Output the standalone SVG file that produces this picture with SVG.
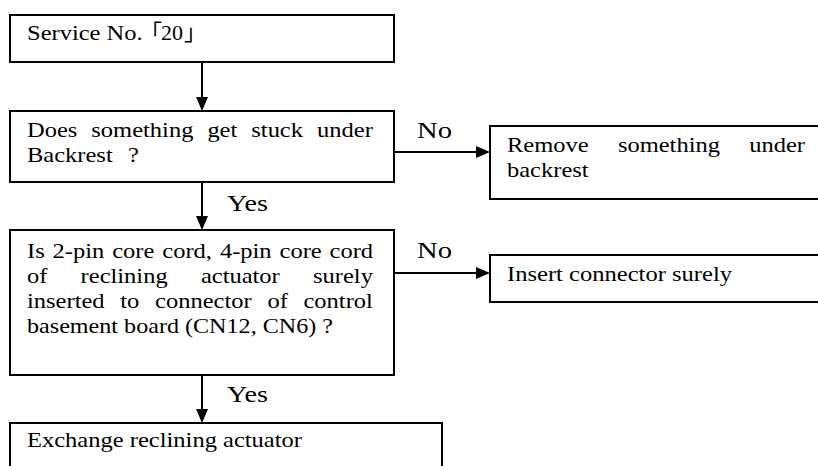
<svg xmlns="http://www.w3.org/2000/svg" width="818" height="466" viewBox="0 0 818 466">
<style>
.box{fill:#fff;stroke:#000;stroke-width:2}
.t{font-family:'Liberation Serif','Times New Roman',serif;font-size:22px;fill:#000}
.lbl{font-family:'Liberation Serif','Times New Roman',serif;font-size:24px;fill:#000}
.cjk{font-family:'Noto Sans CJK JP',serif}
.c{stroke:#000;stroke-width:2;fill:none;marker-end:url(#ah)}
</style>
<defs>
<marker id="ah" markerUnits="userSpaceOnUse" markerWidth="14" markerHeight="12" refX="4" refY="6" orient="auto">
<path d="M0,0 L14,6 L0,12 Z" fill="#000"/>
</marker>
</defs>
<rect width="818" height="466" fill="#fff"/>
<g id="connectors">
<line class="c" x1="202" y1="62" x2="202" y2="101"/>
<line class="c" x1="202" y1="182" x2="202" y2="220"/>
<line class="c" x1="202" y1="375" x2="202" y2="413"/>
<line class="c" x1="394" y1="152" x2="480" y2="152"/>
<line class="c" x1="394" y1="273" x2="480" y2="273"/>
<text class="lbl" x="227" y="211" textLength="41" lengthAdjust="spacingAndGlyphs">Yes</text>
<text class="lbl" x="227" y="402" textLength="41" lengthAdjust="spacingAndGlyphs">Yes</text>
<text class="lbl" x="417" y="138" textLength="35" lengthAdjust="spacingAndGlyphs">No</text>
<text class="lbl" x="417" y="258" textLength="35" lengthAdjust="spacingAndGlyphs">No</text>
</g>
<g id="start">
<rect class="box" x="10" y="15" width="384" height="47"/>
<text class="t" y="40"><tspan x="27" textLength="115.7" lengthAdjust="spacingAndGlyphs">Service No.</tspan><tspan class="cjk" x="140">「</tspan><tspan x="161">20</tspan><tspan class="cjk" x="184">」</tspan></text>
</g>
<g id="q1">
<rect class="box" x="10" y="111" width="384" height="71"/>
<text class="t" y="137"><tspan x="27" textLength="50.3" lengthAdjust="spacingAndGlyphs">Does</tspan> <tspan x="91.3" textLength="102.1" lengthAdjust="spacingAndGlyphs">something</tspan> <tspan x="207.4" textLength="29.9" lengthAdjust="spacingAndGlyphs">get</tspan> <tspan x="251.3" textLength="51.7" lengthAdjust="spacingAndGlyphs">stuck</tspan> <tspan x="317" textLength="55.8" lengthAdjust="spacingAndGlyphs">under</tspan></text>
<text class="t" y="162"><tspan x="27" textLength="85.7" lengthAdjust="spacingAndGlyphs">Backrest</tspan> <tspan x="128" textLength="10.9" lengthAdjust="spacingAndGlyphs">?</tspan></text>
</g>
<g id="remove">
<rect class="box" x="490" y="126" width="340" height="73"/>
<text class="t" y="152"><tspan x="507" textLength="81.7" lengthAdjust="spacingAndGlyphs">Remove</tspan> <tspan x="617.9" textLength="102.1" lengthAdjust="spacingAndGlyphs">something</tspan> <tspan x="749.2" textLength="55.8" lengthAdjust="spacingAndGlyphs">under</tspan></text>
<text class="t" x="507" y="177" textLength="81.6" lengthAdjust="spacingAndGlyphs">backrest</text>
</g>
<g id="q2">
<rect class="box" x="10" y="230" width="384" height="145"/>
<text class="t" y="258"><tspan x="27" textLength="17.7" lengthAdjust="spacingAndGlyphs">Is</tspan> <tspan x="52.6" textLength="51.7" lengthAdjust="spacingAndGlyphs">2-pin</tspan> <tspan x="112.2" textLength="42.2" lengthAdjust="spacingAndGlyphs">core</tspan> <tspan x="162.3" textLength="49.7" lengthAdjust="spacingAndGlyphs">cord,</tspan> <tspan x="219.9" textLength="51.7" lengthAdjust="spacingAndGlyphs">4-pin</tspan> <tspan x="279.5" textLength="42.2" lengthAdjust="spacingAndGlyphs">core</tspan> <tspan x="329.6" textLength="43.5" lengthAdjust="spacingAndGlyphs">cord</tspan></text>
<text class="t" y="283"><tspan x="27" textLength="20.4" lengthAdjust="spacingAndGlyphs">of</tspan> <tspan x="80.6" textLength="87.1" lengthAdjust="spacingAndGlyphs">reclining</tspan> <tspan x="200.9" textLength="78.9" lengthAdjust="spacingAndGlyphs">actuator</tspan> <tspan x="313" textLength="59.9" lengthAdjust="spacingAndGlyphs">surely</tspan></text>
<text class="t" y="308"><tspan x="27" textLength="77.6" lengthAdjust="spacingAndGlyphs">inserted</tspan> <tspan x="120.3" textLength="19.1" lengthAdjust="spacingAndGlyphs">to</tspan> <tspan x="155.1" textLength="96.6" lengthAdjust="spacingAndGlyphs">connector</tspan> <tspan x="267.4" textLength="20.4" lengthAdjust="spacingAndGlyphs">of</tspan> <tspan x="303.5" textLength="69.4" lengthAdjust="spacingAndGlyphs">control</tspan></text>
<text class="t" x="27" y="333" textLength="306" lengthAdjust="spacingAndGlyphs">basement board (CN12, CN6) ?</text>
</g>
<g id="insert">
<rect class="box" x="490" y="255" width="340" height="47"/>
<text class="t" x="507" y="281" textLength="225" lengthAdjust="spacingAndGlyphs">Insert connector surely</text>
</g>
<g id="exchange">
<rect class="box" x="10" y="423" width="432" height="60"/>
<text class="t" x="27" y="447" textLength="275" lengthAdjust="spacingAndGlyphs">Exchange reclining actuator</text>
</g>
</svg>
